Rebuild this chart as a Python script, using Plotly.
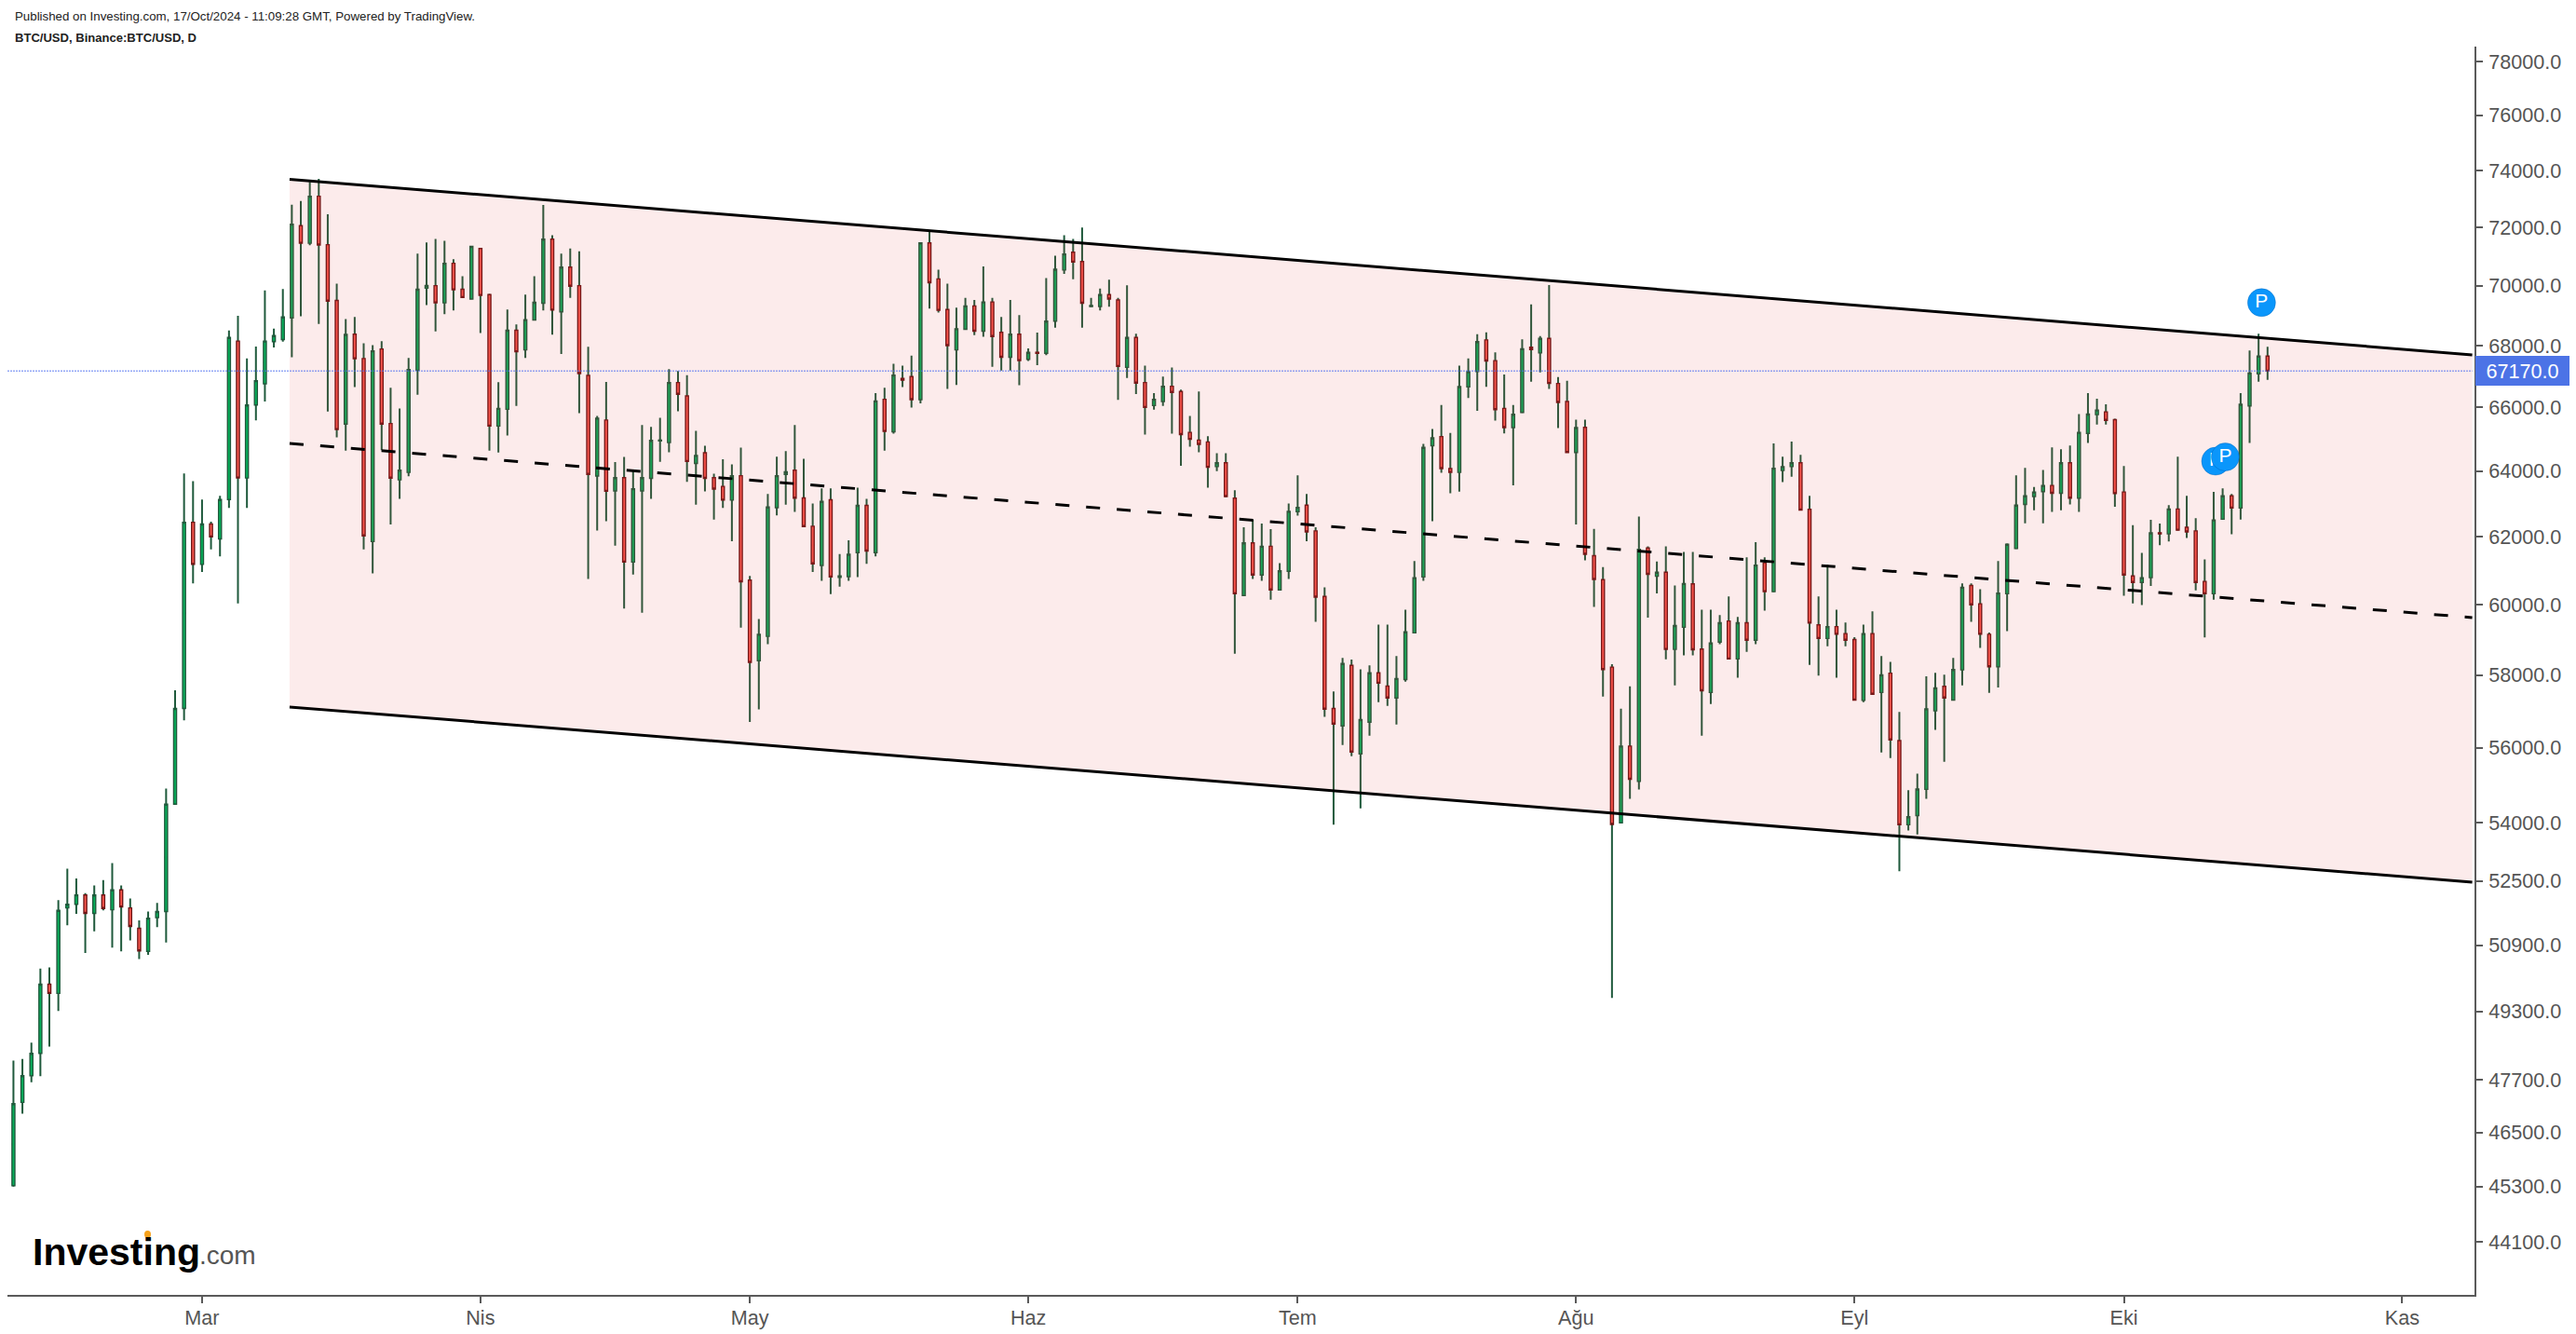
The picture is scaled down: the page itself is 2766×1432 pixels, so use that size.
import numpy as np
import pandas as pd
import plotly.graph_objects as go

# ---------- data ----------
start_date = "2024-02-09"
opens = [45320,47180,47790,48310,49950,49730,51825,51915,52150,51690,52150,51780,52280,51825,51320,50750,51585,51735,54490,57070,
62440,61180,62385,61940,63130,68150,63790,66080,66760,68130,68200,68920,72060,71450,73090,71400,69500,65470,68380,67580,
61860,67890,65490,63730,63960,67200,69920,70000,69420,70760,69880,69550,71270,69700,65410,65940,68510,67860,68850,69410,
71590,69120,70630,70000,67030,63850,65600,63390,63800,61250,63390,63780,64940,64890,66800,66370,64240,64570,63800,63530,
63110,63860,60720,58400,59090,62880,63900,64030,63180,62320,61150,63120,60800,60820,61530,62950,61530,66260,65230,66930,
66990,66250,71460,70230,69200,67860,68540,69320,68480,69450,68440,67620,68380,67550,67780,67750,68810,70530,71140,70820,
69300,69300,69700,69520,67290,68270,66800,66060,66190,66680,66510,65210,64970,64910,64140,64260,63170,60270,61820,60870,
61720,60430,60980,62760,62960,62180,60240,57070,56590,58270,55830,56690,58060,57690,57360,57870,59190,60810,64790,65080,
64080,63960,66660,67160,68190,67510,65970,65360,65840,67950,67760,68240,66770,66190,64580,65370,61440,60730,58220,54000,
56040,55090,61670,60830,60950,58720,59350,60610,58730,57510,58930,59530,58450,59480,58980,61230,60380,64020,64140,64260,
62830,59420,59030,59370,59170,59000,57290,59170,57510,58050,56190,53950,54190,54880,57000,57680,57300,58140,60560,60030,
59150,58230,60320,61650,62980,63220,63370,63560,63320,64260,63170,65180,65770,65860,65610,63360,60840,60650,60790,62120,
62090,62840,62290,62180,60680,60320,62530,63240,62870,66050,67080,67660]
highs = [48140,48180,48560,50330,50360,52020,52816,52570,52200,52390,52530,52960,52390,52065,51515,51735,51950,54900,57570,63930,
63690,63130,62460,63240,68500,68990,67580,67970,69840,68560,69890,72790,72920,73600,73710,72460,70070,68880,68950,68080,
68020,68150,66630,65970,67600,71090,71480,71600,71530,70900,70320,71350,71290,69720,66810,69200,68700,69700,70320,72780,
71730,71090,71270,71170,67960,65730,66820,64280,64440,64020,65440,65380,65670,67230,67170,67040,65260,64790,63920,64370,
64210,64730,60840,59590,63300,64450,64620,65440,64380,63010,63470,63470,61490,61900,63490,63150,66460,66630,67410,67350,
67670,71480,71850,70540,70070,69260,69590,69520,70650,69590,68950,69520,69010,67910,68430,70260,71020,71730,71600,71990,
69590,69900,70200,69590,70010,68390,67350,66460,66990,67290,66570,65730,66510,65090,64560,64560,63410,62290,62510,62400,
62230,61220,63010,63870,63300,62290,60510,57540,58480,58430,58160,58270,59430,59430,58530,59860,61280,64850,65320,66080,
65190,67350,67580,68380,68440,67780,67060,66080,68210,69370,68320,70020,66980,66860,65610,65610,62240,61100,58300,57060,
57680,62610,61720,61270,61720,60560,61550,61550,59860,59860,59700,60240,59650,61390,61840,61390,64860,64450,64920,64510,
63240,60240,61170,59860,59490,59070,59430,59810,58530,58370,56970,54860,55300,57960,58060,58010,58480,60620,60620,60450,
59200,61280,61800,63870,64100,63510,64040,64740,64680,64800,65790,66460,66280,66100,65640,64160,62350,61520,62510,62400,
62960,64450,63240,62560,61330,63360,63470,63300,66460,67840,68390,67960]
lows = [45300,46920,47640,47780,48470,49310,51395,51680,50710,51245,51765,50840,50750,51020,50560,50665,51350,50970,54480,56740,
60620,60960,61630,61420,62870,60040,62870,65590,66190,67940,68130,67620,68970,71380,68720,65870,65050,64640,66650,61630,
60920,64650,62370,63150,63840,66410,69350,68470,69040,69170,69590,69540,68420,64640,64580,65110,66050,67600,68840,69170,
68360,67730,69590,65820,60750,62190,62470,61740,59890,60880,59770,63150,64290,64590,65880,63670,62970,63380,62520,62870,
61870,59340,56700,57040,58870,62650,62970,62750,62300,60960,60700,60310,60530,60700,60810,61200,61420,64640,65170,66650,
66000,66130,69230,69100,66590,66720,68530,68350,68290,67310,67190,67190,66710,67500,67360,67690,68590,70400,70220,68590,
69280,69170,69290,66240,66950,66430,65140,65930,66050,65170,64170,64760,64590,63490,64000,63200,58600,60260,60750,60700,
60150,60420,60750,62640,61870,59510,56840,53950,56070,55770,54380,56320,57240,57140,56630,57810,59180,60700,62470,63950,
63320,63370,66300,65890,66660,65580,65180,63560,65830,66830,67130,66590,65350,64570,62370,61300,59940,57400,49620,53990,
54630,54880,59630,60330,58440,57710,58550,58550,56320,57190,58870,58440,57920,58650,58870,59830,60370,63660,63830,62800,
58280,57980,58810,57920,58810,57290,57240,57450,55870,55720,52750,53800,53700,54630,56480,55620,57290,57710,59510,58760,
57500,57650,59240,61640,62410,62800,62410,62750,62800,62980,62750,64880,65460,65460,62910,60260,60040,59990,60550,61750,
61860,62190,61970,60420,59060,60150,62520,62080,62520,64880,66830,66890]
closes = [47150,47790,48310,49950,49730,51765,51915,52154,51690,52150,51810,52280,51850,51365,50760,51570,51735,54490,57070,62440,
61180,62385,62000,63130,68270,63790,66080,66860,68150,68330,68950,72110,71450,73090,71390,69480,65300,68370,67570,62030,
67830,65470,63785,64030,67220,69880,70010,69420,70760,69860,69600,71340,69670,65410,65970,68510,67800,68860,69440,71590,
69180,70630,69980,67090,63900,65660,63380,63800,61250,63460,63800,64960,64970,66800,66420,64300,64490,63780,63450,63110,
63860,60670,58350,59150,62900,63860,63980,63170,62310,61200,63070,60810,60840,61480,62950,61580,66210,65240,67040,66880,
66250,71460,70100,69170,68000,68560,69320,68480,69450,68300,67620,68380,67510,67780,67750,68810,70560,71080,70800,69410,
69330,69700,69550,67320,68270,66780,66000,66260,66680,66480,65140,64990,64830,64120,64260,63220,60320,61820,60870,61720,
60430,60990,62770,62890,62150,60220,57050,56640,58320,55880,56760,58060,57770,57360,57900,59220,60790,64740,65040,64080,
63960,66670,67150,68130,67500,65930,65360,65780,67900,67870,68240,66770,66160,64580,65360,61480,60740,58150,53960,56040,
55150,61630,60890,60950,58720,59400,60620,58710,57560,58900,59480,58450,59480,58980,61160,60380,64090,64140,64260,62810,
59470,59030,59370,59150,58980,57300,59170,57460,58000,56210,53950,54160,54890,57060,57640,57360,58150,60510,60000,59150,
58230,60340,61780,62960,63240,63360,63560,63320,64260,63170,65210,65790,65920,65590,63310,60870,60650,60790,62120,62090,
62840,62200,62150,60650,60320,62510,63240,62870,66100,67110,67660,67170]

y_ticks = [78000,76000,74000,72000,70000,68000,66000,64000,62000,60000,58000,56000,54000,52500,50900,49300,47700,46500,45300,44100]
x_tick_dates = ["2024-03-01","2024-04-01","2024-05-01","2024-06-01","2024-07-01","2024-08-01","2024-09-01","2024-10-01","2024-11-01"]
x_tick_labels = ["Mar","Nis","May","Haz","Tem","Ağu","Eyl","Eki","Kas"]

last_price = 67170
channel_x = ["2024-03-10 18:00", "2024-11-08 19:00"]
upper_line = [73690, 67700]
middle_line = [64865, 59630]
lower_line = [57110, 52475]
pin_dates = ["2024-10-11 05:00", "2024-10-12 07:00", "2024-10-16 08:00"]
pin_prices = [64310, 64440, 69430]

x_range = ["2024-02-08 08:00", "2024-11-09 01:00"]
y_range_prices = [42990, 78570]

# ---------- layout geometry ----------
W, H = 2766, 1432
L, R, T, B = 8, 2657, 50, 1390
def px(x): return (x - L) / (R - L)
def py(y): return (B - y) / (B - T)

assert len(opens) == len(highs) == len(lows) == len(closes) == 252
dates = pd.date_range(start_date, periods=len(opens), freq="D")
body_top = [max(o, c) for o, c in zip(opens, closes)]
body_bot = [min(o, c) for o, c in zip(opens, closes)]
body_mid = [(o + c) / 2 for o, c in zip(opens, closes)]

FONT = "Liberation Sans, Arial, sans-serif"
WICK = "#1f5a3c"
GREEN_FILL = "#06b35c"
RED_FILL = "#ff5a50"
RED_EDGE = "#6e1616"
GREEN_EDGE = "#1f5a3c"
AXIS = "#5a5a5a"
PIN = "#0a96fb"

fig = go.Figure()

# wicks: a flat box hidden inside each body, so only the whisker shows
fig.add_trace(go.Candlestick(
    x=dates, open=body_mid, high=highs, low=lows, close=body_mid,
    increasing=dict(line=dict(color=WICK, width=2), fillcolor=WICK),
    decreasing=dict(line=dict(color=WICK, width=2), fillcolor=WICK),
    whiskerwidth=0, showlegend=False, hoverinfo="skip"))
# bodies
fig.add_trace(go.Candlestick(
    x=dates, open=opens, high=body_top, low=body_bot, close=closes,
    increasing=dict(line=dict(color=GREEN_EDGE, width=1.4), fillcolor=GREEN_FILL),
    decreasing=dict(line=dict(color=RED_EDGE, width=1.4), fillcolor=RED_FILL),
    whiskerwidth=0, showlegend=False, hoverinfo="skip"))

# channel fill sits over the candles
fig.add_trace(go.Scatter(
    x=[channel_x[0], channel_x[1], channel_x[1], channel_x[0], channel_x[0]],
    y=[upper_line[0], upper_line[1], lower_line[1], lower_line[0], upper_line[0]],
    mode="none", fill="toself", fillcolor="rgba(225,60,60,0.10)",
    showlegend=False, hoverinfo="skip"))
# last-price line
fig.add_trace(go.Scatter(
    x=[x_range[0], channel_x[1]], y=[last_price, last_price], mode="lines",
    line=dict(color="rgba(76,110,240,0.6)", width=1.5, dash="2px,1px"),
    showlegend=False, hoverinfo="skip"))
# channel lines
for vals, dash in ((upper_line, "solid"), (lower_line, "solid"), (middle_line, "15px,18px")):
    fig.add_trace(go.Scatter(
        x=channel_x, y=vals, mode="lines",
        line=dict(color="#000000", width=3, dash=dash),
        showlegend=False, hoverinfo="skip"))
# P pins
for d, p in zip(pin_dates, pin_prices):
    fig.add_trace(go.Scatter(
        x=[d], y=[p], mode="markers+text", text=["P"], textposition="middle center",
        textfont=dict(family=FONT, size=21, color="#ffffff"),
        marker=dict(size=30, color=PIN, line=dict(color="rgba(0,90,170,0.35)", width=1)),
        showlegend=False, hoverinfo="skip"))

annotations = [
    dict(xref="paper", yref="paper", x=px(13.5), y=py(17.5), xanchor="left", yanchor="middle",
         text="Published on Investing.com, 17/Oct/2024 - 11:09:28 GMT, Powered by TradingView.",
         showarrow=False, font=dict(family=FONT, size=13.3, color="#222222")),
    dict(xref="paper", yref="paper", x=px(13.5), y=py(40), xanchor="left", yanchor="middle",
         text="<b>BTC/USD, Binance:BTC/USD, D</b>",
         showarrow=False, font=dict(family=FONT, size=13.05, color="#222222")),
    dict(xref="paper", yref="paper", x=px(33), y=py(1344), xanchor="left", yanchor="middle",
         text="<b>Investing</b>", showarrow=False,
         font=dict(family=FONT, size=41, color="#000000")),
    dict(xref="paper", yref="paper", x=px(212), y=py(1347), xanchor="left", yanchor="middle",
         text=".com", showarrow=False,
         font=dict(family=FONT, size=28, color="#555555")),
    dict(xref="paper", yref="y", x=px(2658), y=float(np.log10(last_price)), xanchor="left", yanchor="middle",
         text=f"{last_price:.1f}", showarrow=False, width=101, height=32, align="center",
         bgcolor="#4c73e6", borderpad=0, borderwidth=0,
         font=dict(family=FONT, size=21.6, color="#ffffff")),
]

shapes = [
    dict(type="circle", xref="paper", yref="paper", x0=px(155), x1=px(162), y0=py(1329), y1=py(1321),
         fillcolor="#f7a11a", line=dict(width=0), layer="above"),
    dict(type="line", xref="paper", yref="paper", x0=px(2658), x1=px(2663), y0=py(399), y1=py(399),
         line=dict(color="#c6d2f6", width=2), layer="above"),
]

fig.update_layout(
    width=W, height=H, autosize=False,
    margin=dict(l=L, r=W - R, t=T, b=H - B, pad=0, autoexpand=False),
    paper_bgcolor="#ffffff", plot_bgcolor="#ffffff",
    showlegend=False, boxmode="overlay", boxgap=0.54, hovermode=False,
    font=dict(family=FONT, size=21.6, color="#555555"),
    annotations=annotations, shapes=shapes,
    xaxis=dict(type="date", range=x_range, rangeslider=dict(visible=False), automargin=False,
               tickmode="array", tickvals=x_tick_dates, ticktext=x_tick_labels,
               ticks="outside", ticklen=7, tickwidth=2, tickcolor=AXIS, ticklabelstandoff=-3,
               showline=True, linecolor=AXIS, linewidth=2, showgrid=False, zeroline=False,
               tickfont=dict(family=FONT, size=21.6, color="#555555")),
    yaxis=dict(type="log", side="right", range=[float(np.log10(v)) for v in y_range_prices], automargin=False,
               tickmode="array", tickvals=y_ticks, ticktext=[f"{v:.1f}" for v in y_ticks],
               ticks="outside", ticklen=7, tickwidth=2, tickcolor=AXIS, ticklabelstandoff=2,
               showline=True, linecolor=AXIS, linewidth=2, showgrid=False, zeroline=False,
               tickfont=dict(family=FONT, size=21.6, color="#555555")),
)

fig.write_html("out.html", post_script="document.body.style.margin='0';document.body.style.overflow='hidden';",
               config={"displayModeBar": False})
